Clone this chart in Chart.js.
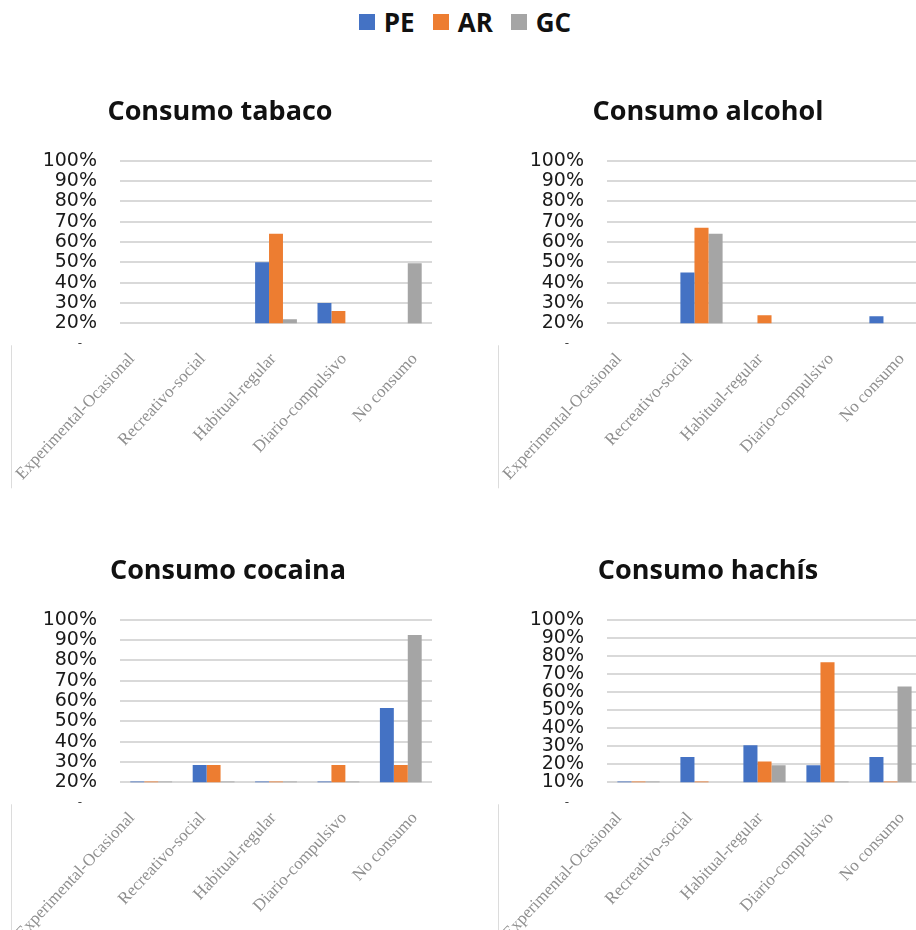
<!DOCTYPE html>
<html lang="es">
<head>
  <meta charset="UTF-8" />
  <title>Consumo por grupo</title>
  <script src="https://cdn.jsdelivr.net/npm/chart.js"></script>
  <style>
    html, body {
      margin: 0;
      padding: 0;
      background: #fff;
      width: 916px;
      height: 930px;
      overflow: hidden;
    }
    .box { position: absolute; }
    #legend {
      position: absolute;
      top: 4px;
      left: 7px;
      width: 916px;
      display: flex;
      justify-content: center;
      font-family: "Open Sans", sans-serif;
      font-weight: 700;
      font-size: 26px;
      color: #111;
    }
    #legend span.item { display: flex; align-items: center; margin: 0 9px; }
    #legend span.sw { width: 16px; height: 16px; margin-right: 9px; display: inline-block; }
  </style>
</head>
<body>

<div id="legend"></div>
<div class="box" style="left:0;top:80px;width:460px;height:420px"><canvas id="c1"></canvas></div>
<div class="box" style="left:494px;top:80px;width:428px;height:420px"><canvas id="c2"></canvas></div>
<div class="box" style="left:0;top:539px;width:460px;height:391px"><canvas id="c3"></canvas></div>
<div class="box" style="left:494px;top:539px;width:428px;height:391px"><canvas id="c4"></canvas></div>

<script>
  // data
  const categories = ['Experimental-Ocasional', 'Recreativo-social', 'Habitual-regular', 'Diario-compulsivo', 'No consumo'];
  const seriesNames = ['PE', 'AR', 'GC'];
  const seriesColors = ['#4472C4', '#ED7D31', '#A5A5A5'];

  const tabacoPE = [0, 0, 50, 30, 0];
  const tabacoAR = [0, 0, 64, 26, 0];
  const tabacoGC = [0, 0, 22, 0, 49.5];

  const alcoholPE = [0, 45, 0, 0, 23.5];
  const alcoholAR = [0, 67, 24, 0, 0];
  const alcoholGC = [0, 64, 0, 0, 0];

  const cocainaPE = [20.4, 28.5, 20.4, 20.4, 56.5];
  const cocainaAR = [20.4, 28.5, 20.4, 28.5, 28.5];
  const cocainaGC = [20.4, 20.4, 20.4, 20.4, 92.5];

  const hachisPE = [10.4, 24, 30.5, 19.5, 24];
  const hachisAR = [10.4, 10.4, 21.5, 76.5, 10.4];
  const hachisGC = [10.4, 0, 19.5, 10.4, 63];

  const ticks20 = [20, 30, 40, 50, 60, 70, 80, 90, 100];
  const ticks10 = [10, 20, 30, 40, 50, 60, 70, 80, 90, 100];

  // legend (shared by the four charts)
  const legend = document.getElementById('legend');
  seriesNames.forEach((n, i) => {
    legend.innerHTML += '<span class="item"><span class="sw" style="background:' + seriesColors[i] + '"></span>' + n + '</span>';
  });

  // small dash under the y axis and a faint rule left of the labels
  const extras = {
    id: 'extras',
    afterDraw(chart) {
      const ctx = chart.ctx, a = chart.chartArea;
      ctx.save();
      ctx.fillStyle = '#444';
      ctx.font = '12px "DejaVu Sans"';
      ctx.textAlign = 'center';
      ctx.fillText('-', a.left - 40, a.bottom + 24);
      ctx.strokeStyle = '#dcdcdc';
      ctx.lineWidth = 1;
      ctx.beginPath();
      ctx.moveTo(a.left - 108.5, a.bottom + 22);
      ctx.lineTo(a.left - 108.5, a.bottom + 165);
      ctx.stroke();
      ctx.restore();
    }
  };

  // the category labels in the original are spaced a bit wider than the bar groups
  const labelStep = 70.7, labelGap = 12;

  function makeChart(id, title, pe, ar, gc, tickVals, pad, yWidth, xHeight, plotWidth) {
    const lmin = -labelGap / labelStep;
    new Chart(document.getElementById(id), {
      type: 'bar',
      data: {
        labels: categories,
        datasets: [pe, ar, gc].map((d, i) => ({
          label: seriesNames[i],
          data: d,
          backgroundColor: seriesColors[i],
          categoryPercentage: 0.67,
          barPercentage: 1.0
        }))
      },
      options: {
        responsive: true,
        maintainAspectRatio: false,
        animation: false,
        layout: { padding: pad },
        plugins: {
          legend: { display: false },
          tooltip: { enabled: false },
          title: {
            display: true,
            text: title,
            color: '#111',
            font: { family: 'Open Sans', size: 27, weight: 'bold', lineHeight: 1.2 },
            padding: { top: 16, bottom: 32.3 }
          }
        },
        scales: {
          x: { display: false },
          xl: {
            type: 'linear',
            position: 'bottom',
            offset: false,
            min: lmin,
            max: lmin + plotWidth / labelStep,
            afterBuildTicks(s) { s.ticks = categories.map((c, i) => ({ value: i })); },
            grid: { display: false },
            border: { display: false },
            ticks: {
              autoSkip: false,
              minRotation: 47,
              maxRotation: 47,
              padding: 18,
              color: '#8f8f8f',
              font: { family: 'Liberation Serif', size: 17 },
              callback: v => categories[v]
            },
            afterFit(s) {
              s.height = xHeight;
              s.paddingLeft = 0;
              s.paddingRight = 0;
            }
          },
          y: {
            min: tickVals[0],
            max: tickVals[tickVals.length - 1],
            afterBuildTicks(s) { s.ticks = tickVals.map(v => ({ value: v })); },
            grid: { color: '#d9d9d9', lineWidth: 2, drawTicks: false },
            border: { display: false },
            ticks: {
              autoSkip: false,
              padding: 23,
              color: '#1a1a1a',
              font: { family: 'DejaVu Sans', size: 19, lineHeight: 1 },
              callback: v => v + '%'
            },
            afterFit(s) { s.width = yWidth; }
          }
        }
      },
      plugins: [extras]
    });
  }

  makeChart('c1', 'Consumo tabaco', tabacoPE, tabacoAR, tabacoGC, ticks20,
    { left: 8, right: 28, top: 0, bottom: 0 }, 112, 176.7, 312);
  makeChart('c2', 'Consumo alcohol', alcoholPE, alcoholAR, alcoholGC, ticks20,
    { left: 0, right: 0, top: 0, bottom: 0 }, 113, 176.7, 315);
  makeChart('c3', 'Consumo cocaina', cocainaPE, cocainaAR, cocainaGC, ticks20,
    { left: 24, right: 28, top: 0, bottom: 0 }, 96, 147.7, 312);
  makeChart('c4', 'Consumo hachís', hachisPE, hachisAR, hachisGC, ticks10,
    { left: 0, right: 0, top: 0, bottom: 0 }, 113, 147.7, 315);
</script>

</body>
</html>
